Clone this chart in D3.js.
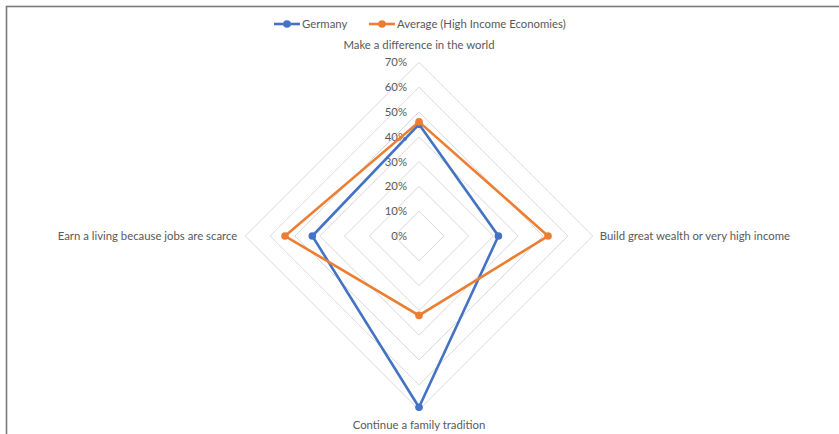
<!DOCTYPE html>
<html>
<head>
<meta charset="utf-8">
<script src="https://cdn.jsdelivr.net/npm/d3@7"></script>
<style>
  html, body { margin: 0; padding: 0; background: #fff; }
  svg { display: block; }
  text { font-family: Lato, "Open Sans", sans-serif; fill: #595959; }
</style>
</head>
<body>
<svg id="chart" width="839" height="434"></svg>
<script>
// Motivations for starting a business (share of respondents)
const axesLabels = [
  "Make a difference in the world",
  "Build great wealth or very high income",
  "Continue a family tradition",
  "Earn a living because jobs are scarce"
];
const germany = [0.45, 0.32, 0.69, 0.43];
const average = [0.46, 0.52, 0.32, 0.54];
const seriesNames = ["Germany", "Average (High Income Economies)"];
const seriesColors = ["#4472C4", "#ED7D31"];
const tickValues = [0, 0.1, 0.2, 0.3, 0.4, 0.5, 0.6, 0.7];

const svg = d3.select("#chart");
const W = 839, H = 434;
const cx = 419, cy = 236, R = 173.7;
const FS = 11.35;

// Chart frame
svg.append("rect")
  .attr("x", 6.5).attr("y", 6.5)
  .attr("width", W + 10).attr("height", H + 10)
  .attr("fill", "none").attr("stroke", "#7a7a7a").attr("stroke-width", 1.6);

const r = d3.scaleLinear().domain([0, 0.7]).range([0, R]);
const angle = i => (i / axesLabels.length) * 2 * Math.PI; // 0 = up, clockwise
const pt = (v, i) => [cx + r(v) * Math.sin(angle(i)), cy - r(v) * Math.cos(angle(i))];

// Grid rings (diamonds)
const g = svg.append("g");
tickValues.forEach(t => {
  if (t === 0) return;
  const pts = axesLabels.map((_, i) => pt(t, i));
  g.append("path")
    .attr("d", d3.line()(pts) + "Z")
    .attr("fill", "none").attr("stroke", "#d9d9d9").attr("stroke-width", 1);
});

// Tick labels along the top axis
tickValues.forEach(t => {
  svg.append("text")
    .attr("x", cx - 12).attr("y", cy - r(t) + 4)
    .attr("text-anchor", "end")
    .attr("font-size", FS)
    .text(d3.format(".0%")(t));
});

// Category labels
const labelPos = [
  { x: cx, y: cy - R - 13, anchor: "middle" },
  { x: cx + R + 7, y: cy + 4, anchor: "start" },
  { x: cx, y: cy + R + 19, anchor: "middle" },
  { x: cx - R - 8, y: cy + 4, anchor: "end" }
];
axesLabels.forEach((lab, i) => {
  svg.append("text")
    .attr("x", labelPos[i].x).attr("y", labelPos[i].y)
    .attr("text-anchor", labelPos[i].anchor)
    .attr("font-size", FS)
    .text(lab);
});

// Series
[germany, average].forEach((vals, s) => {
  const pts = vals.map((v, i) => pt(v, i));
  svg.append("path")
    .attr("d", d3.line()(pts) + "Z")
    .attr("fill", "none")
    .attr("stroke", seriesColors[s])
    .attr("stroke-width", 2.6)
    .attr("stroke-linejoin", "miter");
  svg.selectAll(null).data(pts).enter().append("circle")
    .attr("cx", d => d[0]).attr("cy", d => d[1]).attr("r", 3.8)
    .attr("fill", seriesColors[s]);
});

// Legend
const legendItems = [{ x: 274 }, { x: 369 }];
seriesNames.forEach((name, s) => {
  const lx = legendItems[s].x;
  svg.append("line")
    .attr("x1", lx).attr("x2", lx + 26).attr("y1", 24).attr("y2", 24)
    .attr("stroke", seriesColors[s]).attr("stroke-width", 2.6);
  svg.append("circle").attr("cx", lx + 13).attr("cy", 24).attr("r", 3.8)
    .attr("fill", seriesColors[s]);
  svg.append("text").attr("x", lx + 28).attr("y", 28)
    .attr("font-size", FS).text(name);
});
</script>
</body>
</html>
